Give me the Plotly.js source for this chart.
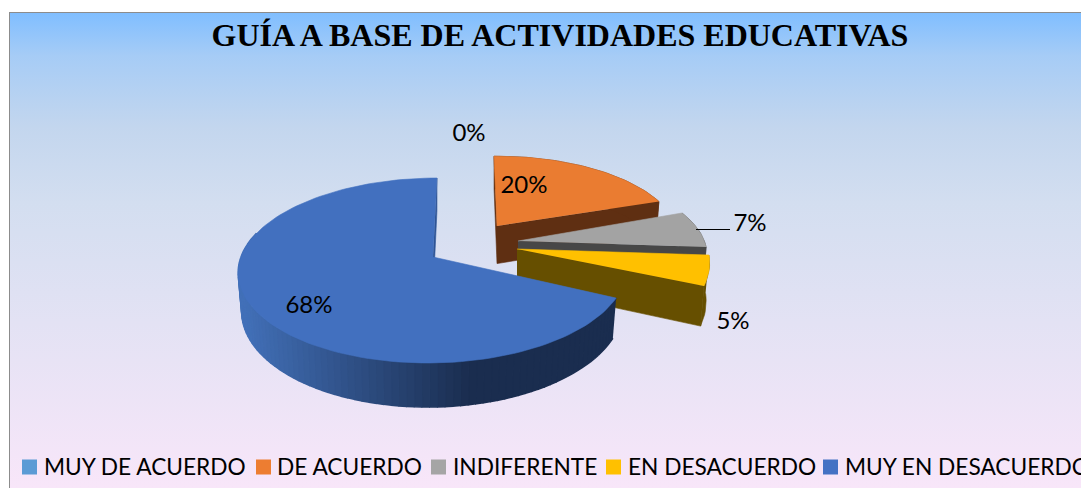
<!DOCTYPE html>
<html>
<head>
<meta charset="utf-8">
<script src="https://cdn.plot.ly/plotly-3.0.1.min.js"></script>
<style>
html,body{margin:0;padding:0;width:1081px;height:488px;overflow:hidden;background:#fff}
#bg{position:absolute;left:9px;top:12px;width:1072px;height:476px;box-sizing:border-box;
border-left:1.5px solid #8c8c8c;border-top:1.5px solid #8c8c8c;
background:linear-gradient(180deg,#80BEFF 0%,#A6CCF6 9%,#C3D6EE 24%,#D3DEF0 40%,#E3E2F4 65%,#F8E6F9 100%)}
#chart{position:absolute;left:0;top:0;width:1081px;height:488px}
</style>
</head>
<body>
<div id="bg"></div>
<div id="chart"></div>
<script>
// ---- data ----
const categories = ['MUY DE ACUERDO', 'DE ACUERDO', 'INDIFERENTE', 'EN DESACUERDO', 'MUY EN DESACUERDO'];
const percentValues = [0, 20, 7, 5, 68];
const chartTitle = 'GUÍA A BASE DE ACTIVIDADES EDUCATIVAS';

// ---- styles ----
const legendColors = ['#5B9BD5', '#ED7D31', '#A5A5A5', '#FFC000', '#4472C4'];
const topColors    = ['#5B9BD5', '#EA7C31', '#A3A3A3', '#FFC000', '#4270BF'];
const rimColors    = ['#2E5B85', '#5F2F12', '#474747', '#664F00', null];
const cutColors    = ['#2E5B85', '#5F2F12', '#474747', '#664F00', '#2F5597'];
// perspective projection of each exploded slice: apex, radii, shears
const sliceViews = [
  {ax: 470, ay: 230, R: 180, Q: 80, s: 0,   t: 0},
  {ax: 497, ay: 226, R: 179, Q: 80, s: -3.4, t: -1},
  {ax: 518, ay: 241, R: 184.5, Q: 81.5, s: -13, t: -4.3},
  {ax: 517, ay: 249, R: 188.6, Q: 94, s: -11, t: -5.9},
  {ax: 433, ay: 257, R: 192, Q: 90.5, s: 4.6, t: 0}
];
const K = 0.146, DEPTH = 37.6, SHRINK = 0.018;
const labelX = [469, 524, 750, 733, 309];
const labelY = [135, 187, 225, 323, 307];
const legendSquareX = [29.5, 263.5, 438.5, 613.5, 830.5];
const legendTextX = [44, 277, 453, 628, 845];
const legendSquareY = 467;
const legendTextY = 469;
const FONT = 'Lato, "Open Sans", sans-serif';

function pt(view, deg, z) {
  const a = deg * Math.PI / 180, u = Math.sin(a), v = Math.cos(a), w = 1 + K * v;
  return [
    view.ax + (view.R * u + view.s * v) / w * (1 - z * SHRINK),
    view.ay + (view.t * u - view.Q * v) / w + z * DEPTH / w
  ];
}
function poly(pts, color, lw) {
  return {
    type: 'scatter', mode: 'lines', x: pts.map(p => p[0]), y: pts.map(p => p[1]),
    fill: 'toself', fillcolor: color, line: {color: color, width: lw || 0.6},
    hoverinfo: 'skip', showlegend: false
  };
}
function mix(c1, c2, f) {
  const c = c1.map((x, i) => Math.round(x + (c2[i] - x) * f));
  return 'rgb(' + c.join(',') + ')';
}
function blueRim(x) {
  const f = Math.max(0, Math.min(1, (x - 243) / (470 - 243)));
  return mix([66, 112, 184], [26, 45, 79], f);
}

const traces = [];
let start = 0;
percentValues.forEach((val, i) => {
  const sweep = val * 3.6, end = start + sweep, view = sliceViews[i];
  if (val > 0) {
    const apexTop = [view.ax, view.ay], apexBot = [view.ax, view.ay + DEPTH];
    // wall of the opening cut, seen as a sliver on the first visible slice
    if (start < 1) traces.push(poly([apexTop, pt(view, start, 0), pt(view, start, 1), apexBot], cutColors[i]));
    // wall of the closing cut
    traces.push(poly([apexTop, pt(view, end, 0), pt(view, end, 1), apexBot], cutColors[i]));
    // outer rim wall
    const step = 2;
    const n = Math.max(1, Math.round(sweep / step));
    if (rimColors[i]) {
      const upper = [], lower = [];
      for (let k = 0; k <= n; k++) {
        const d = start + sweep * k / n;
        upper.push(pt(view, d, 0)); lower.unshift(pt(view, d, 1));
      }
      traces.push(poly(upper.concat(lower), rimColors[i]));
    } else {
      for (let k = 0; k < n; k++) {
        const d1 = start + sweep * k / n, d2 = start + sweep * (k + 1) / n;
        if (d1 > 285) break;
        const p = [pt(view, d1, 0), pt(view, d2, 0), pt(view, d2, 1), pt(view, d1, 1)];
        traces.push(poly(p, blueRim((p[0][0] + p[1][0]) / 2), 1.6));
      }
    }
    // top face
    const face = [[view.ax, view.ay]];
    for (let k = 0; k <= n; k++) face.push(pt(view, start + sweep * k / n, 0));
    traces.push(poly(face, topColors[i]));
  }
  start = end;
});

// 7% leader line
traces.push({type: 'scatter', mode: 'lines', x: [696, 730], y: [229.5, 229.5],
  line: {color: '#000', width: 1}, hoverinfo: 'skip', showlegend: false});

// percentage labels
traces.push({type: 'scatter', mode: 'text', x: labelX, y: labelY,
  text: percentValues.map(v => v + '%'), textposition: 'middle center',
  textfont: {family: FONT, size: 24, color: '#000'}, hoverinfo: 'skip', showlegend: false});

// legend squares and names
traces.push({type: 'scatter', mode: 'markers', x: legendSquareX, y: categories.map(() => legendSquareY),
  marker: {symbol: 'square', size: 15, color: legendColors, line: {width: 0}},
  hoverinfo: 'skip', showlegend: false});
traces.push({type: 'scatter', mode: 'text', x: legendTextX, y: categories.map(() => legendTextY),
  text: categories, textposition: 'middle right', cliponaxis: false,
  textfont: {family: FONT, size: 22.7, color: '#000'}, hoverinfo: 'skip', showlegend: false});

const layout = {
  width: 1081, height: 488, margin: {l: 0, r: 0, t: 0, b: 0},
  paper_bgcolor: 'rgba(0,0,0,0)', plot_bgcolor: 'rgba(0,0,0,0)', showlegend: false,
  title: {text: '<b>' + chartTitle + '</b>', x: 560 / 1081, xanchor: 'center', y: 1 - 35 / 488, yanchor: 'middle',
    font: {family: '"Liberation Serif", serif', size: 32, color: '#000'}},
  xaxis: {range: [0, 1081], visible: false, fixedrange: true},
  yaxis: {range: [488, 0], visible: false, fixedrange: true}
};
Plotly.newPlot('chart', traces, layout, {staticPlot: true, displayModeBar: false});
</script>
</body>
</html>
